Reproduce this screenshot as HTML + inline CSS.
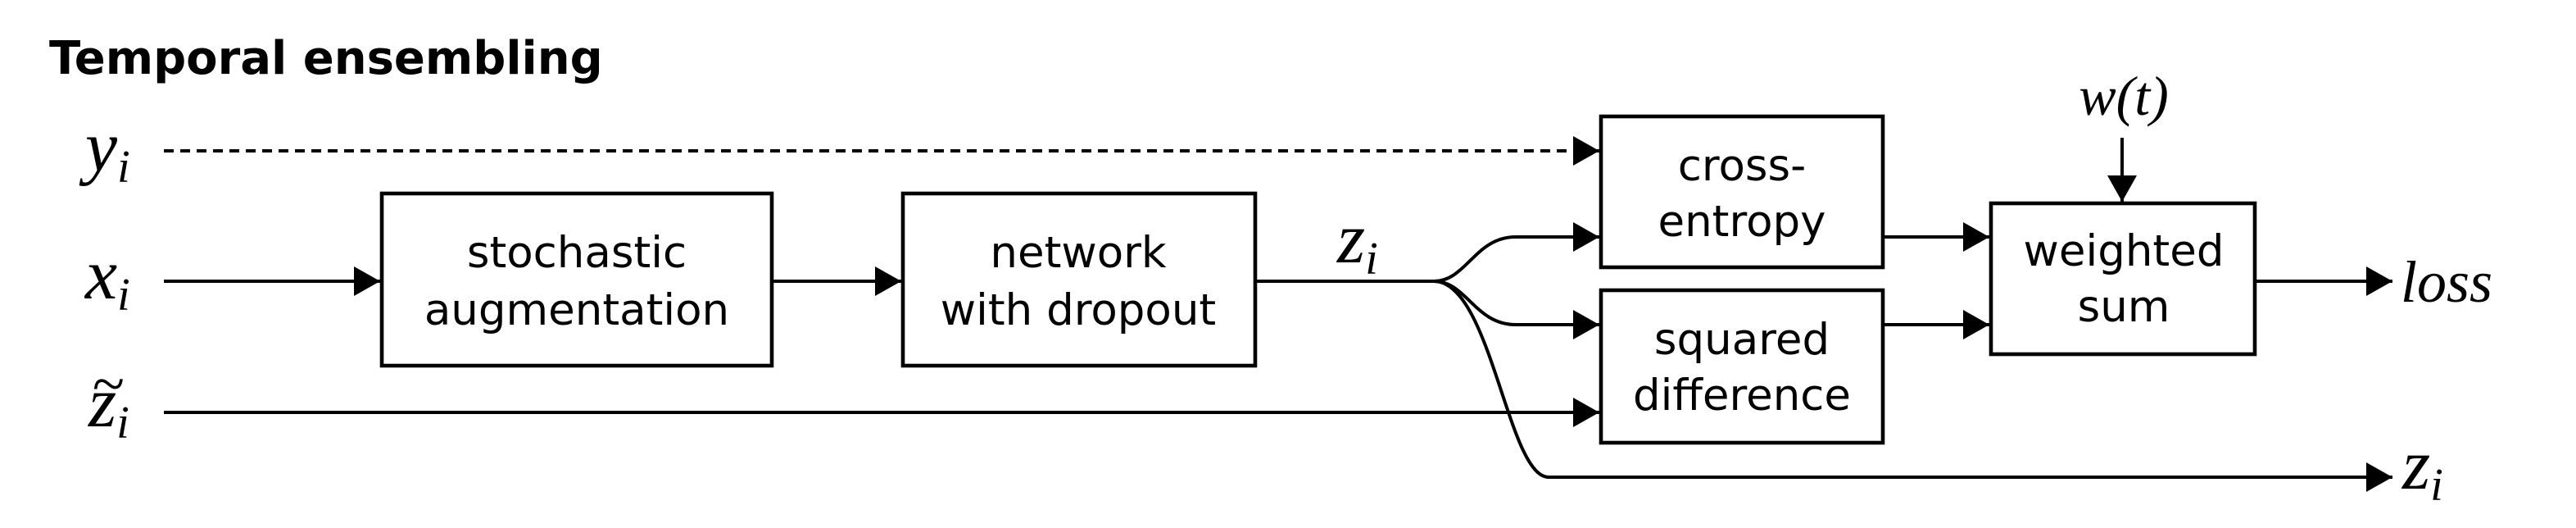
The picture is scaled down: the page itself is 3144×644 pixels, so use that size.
<!DOCTYPE html>
<html><head><meta charset="utf-8"><style>
html,body{margin:0;padding:0;background:#fff;}
svg{display:block;}
.bx{font-family:"DejaVu Sans","Liberation Sans",sans-serif;font-size:26.5px;fill:#000;text-anchor:middle;}
.it{font-family:"Liberation Serif",serif;font-style:italic;fill:#000;}
</style></head><body>
<svg width="3144" height="644" viewBox="0 0 1572 322" xmlns="http://www.w3.org/2000/svg">
<defs><marker id="ah" viewBox="0 0 16 18" refX="16" refY="9" markerWidth="16" markerHeight="18" markerUnits="userSpaceOnUse" orient="auto"><path d="M0,0 L16,9 L0,18 z" fill="#000"/></marker></defs>
<text x="30" y="45" font-family="DejaVu Sans,Liberation Sans,sans-serif" font-weight="bold" font-size="28">Temporal ensembling</text>
<g stroke="#000" stroke-width="2" fill="none">
<line x1="100" y1="92" x2="976" y2="92" stroke-dasharray="6,4" marker-end="url(#ah)"/>
<line x1="100" y1="171.5" x2="232" y2="171.5" marker-end="url(#ah)"/>
<line x1="471" y1="171.5" x2="550" y2="171.5" marker-end="url(#ah)"/>
<line x1="766" y1="171.5" x2="875" y2="171.5"/>
<path d="M875,171.5 C895,171.5 900,144.5 925,144.5 L976,144.5" marker-end="url(#ah)"/>
<path d="M875,171.5 C895,171.5 900,198 925,198 L976,198" marker-end="url(#ah)"/>
<path d="M875,171.5 C910,171.5 920,291 945,291 L1460,291" marker-end="url(#ah)"/>
<line x1="100" y1="251.5" x2="976" y2="251.5" marker-end="url(#ah)"/>
<line x1="1149" y1="144.5" x2="1214" y2="144.5" marker-end="url(#ah)"/>
<line x1="1149" y1="198" x2="1214" y2="198" marker-end="url(#ah)"/>
<line x1="1295" y1="84" x2="1295" y2="123" marker-end="url(#ah)"/>
<line x1="1376" y1="171.5" x2="1460" y2="171.5" marker-end="url(#ah)"/>
</g>
<g stroke="#000" stroke-width="2.3" fill="#fff">
<rect x="233" y="118" width="238" height="105"/>
<rect x="551" y="118" width="215" height="105"/>
<rect x="977" y="71" width="172" height="92"/>
<rect x="977" y="177" width="172" height="93"/>
<rect x="1215" y="124" width="161" height="92"/>
</g>
<text class="bx" x="352" y="163">stochastic</text>
<text class="bx" x="352" y="198">augmentation</text>
<text class="bx" x="658" y="163">network</text>
<text class="bx" x="658" y="198">with dropout</text>
<text class="bx" x="1063" y="110">cross-</text>
<text class="bx" x="1063" y="144">entropy</text>
<text class="bx" x="1063" y="216">squared</text>
<text class="bx" x="1063" y="250">difference</text>
<text class="bx" x="1296" y="162">weighted</text>
<text class="bx" x="1296" y="196">sum</text>
<text class="it" x="52" y="104" font-size="44">y<tspan font-size="28" dy="7">i</tspan></text>
<text class="it" x="52" y="182" font-size="44">x<tspan font-size="28" dy="7">i</tspan></text>
<text class="it" x="54" y="260" font-size="44">z<tspan font-size="28" dy="7">i</tspan></text>
<text class="it" x="56" y="246" font-size="36">~</text>
<text class="it" x="816" y="160" font-size="44">z<tspan font-size="28" dy="7">i</tspan></text>
<text class="it" x="1465" y="184" font-size="36">loss</text>
<text class="it" x="1466" y="298" font-size="44">z<tspan font-size="28" dy="7">i</tspan></text>
<text class="it" x="1296" y="70" font-size="34" text-anchor="middle">w(t)</text>
</svg>
</body></html>
